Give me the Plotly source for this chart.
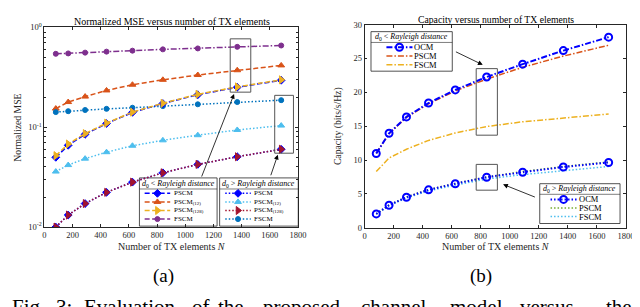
import plotly.graph_objects as go

# ---------------- data ----------------
N = [81, 169, 289, 441, 625, 841, 1089, 1369, 1681]

# (a) normalized MSE
mse_pscm_near = [0.050, 0.066, 0.085, 0.109, 0.141, 0.173, 0.212, 0.252, 0.296]
mse_pscm12_near = [0.154, 0.179, 0.203, 0.234, 0.267, 0.299, 0.334, 0.373, 0.417]
mse_pscm128_near = [0.052, 0.068, 0.0865, 0.110, 0.142, 0.174, 0.214, 0.254, 0.299]
mse_fscm_near = [0.545, 0.55, 0.56, 0.573, 0.586, 0.604, 0.617, 0.64, 0.66]
mse_pscm_far = [0.0100, 0.0132, 0.0172, 0.0223, 0.0282, 0.035, 0.0425, 0.0507, 0.0602]
mse_pscm12_far = [0.036, 0.0418, 0.0485, 0.0563, 0.0653, 0.074, 0.0833, 0.094, 0.104]
mse_pscm128_far = [0.0100, 0.0132, 0.0172, 0.0223, 0.0282, 0.035, 0.0425, 0.0507, 0.0602]
mse_fscm_far = [0.142, 0.145, 0.149, 0.153, 0.157, 0.163, 0.170, 0.179, 0.187]

# (b) capacity
cap_ocm_near = [10.96, 13.95, 16.37, 18.42, 20.36, 22.27, 24.16, 26.16, 28.15]
cap_pscm_near = [11.0, 13.9, 16.3, 18.3, 20.2, 21.95, 23.7, 25.35, 26.95]
cap_fscm_near = [8.3, 10.3, 11.6, 12.9, 14.0, 14.95, 15.65, 16.2, 16.8]
cap_ocm_far = [2.05, 3.33, 4.51, 5.6, 6.5, 7.46, 8.2, 8.97, 9.64]
cap_pscm_far = [2.05, 3.35, 4.55, 5.65, 6.55, 7.5, 8.3, 9.05, 9.72]
cap_fscm_far = [2.0, 3.25, 4.4, 5.45, 6.3, 7.2, 7.85, 8.45, 9.05]

x_ticks = [0, 200, 400, 600, 800, 1000, 1200, 1400, 1600, 1800]
mse_ticks = [0.01, 0.1, 1]
mse_ticktext = ["10<sup>-2</sup>", "10<sup>-1</sup>", "10<sup>0</sup>"]
cap_ticks = [0, 5, 10, 15, 20, 25, 30]

# zoom boxes (data coords)
box_a1 = dict(x0=1319, x1=1465, y0=0.225, y1=0.77)
box_a2 = dict(x0=1635, x1=1768, y0=0.055, y1=0.209)
box_b1 = dict(x0=769, x1=915, y0=13.67, y1=23.5)
box_b2 = dict(x0=769, x1=915, y0=5.55, y1=9.36)

# ---------------- styles ----------------
W, H = 640, 307
FONT = "Liberation Serif"
TXT = "#262626"
BLUE = "#0000FF"
C1 = "#0072BD"
ORANGE = "#D95319"
YELLOW = "#EDB120"
PURPLE = "#7E2F8E"
GREEN = "#77AC30"
LBLUE = "#4DBEEE"
DRED = "#A2142F"
DASH = "5px,2.5px"
DOT = "1.5px,2px"
DASHDOT = "6px,2px,1.5px,2px"

fig = go.Figure()


def add(x, y, color, dash, symbol=None, xa="x", ya="y", size=5, open_=False, lw=1.5):
    mode = "lines+markers" if symbol else "lines"
    marker = None
    if symbol:
        if open_:
            marker = dict(symbol=symbol + "-open", size=size, color=color, line=dict(width=2, color=color))
        else:
            marker = dict(symbol=symbol, size=size, color=color, line=dict(width=1, color=color))
    fig.add_trace(go.Scatter(x=x, y=y, mode=mode, xaxis=xa, yaxis=ya, showlegend=False,
                             line=dict(color=color, dash=dash, width=lw), marker=marker,
                             hoverinfo="skip"))


# (a)
add(N, mse_fscm_near, PURPLE, DASHDOT, "circle")
add(N, mse_pscm12_near, ORANGE, DASH, "triangle-up", size=6)
add(N, mse_fscm_far, C1, DOT, "circle")
add(N, mse_pscm_near, BLUE, DASH, "diamond", size=6)
add(N, mse_pscm128_near, YELLOW, DASH, "triangle-right", size=7)
add(N, mse_pscm12_far, LBLUE, DOT, "triangle-up", size=6)
add(N, mse_pscm_far, BLUE, DOT, "diamond", size=6)
add(N, mse_pscm128_far, DRED, DOT, "triangle-right", size=7)

# (b)
add(N, cap_fscm_near, YELLOW, DASHDOT, None, "x2", "y2")
add(N, cap_pscm_near, ORANGE, DASHDOT, None, "x2", "y2")
add(N, cap_ocm_near, BLUE, DASHDOT, "circle", "x2", "y2", size=7, open_=True, lw=2)
add(N, cap_fscm_far, LBLUE, DOT, None, "x2", "y2")
add(N, cap_pscm_far, GREEN, DOT, None, "x2", "y2")
add(N, cap_ocm_far, BLUE, DOT, "circle", "x2", "y2", size=7, open_=True, lw=2)


def P(x, y):
    return x / W, 1 - y / H


shapes = []
annots = []

# zoom rectangles
for b, xr, yr in [(box_a1, "x", "y"), (box_a2, "x", "y"), (box_b1, "x2", "y2"), (box_b2, "x2", "y2")]:
    shapes.append(dict(type="rect", xref=xr, yref=yr, x0=b["x0"], x1=b["x1"], y0=b["y0"], y1=b["y1"],
                       line=dict(color="#555555", width=1), layer="above"))

# arrows (pixel space -> paper)
def arrow(x0, y0, x1, y1):
    hx, hy = P(x1, y1)
    annots.append(dict(x=hx, y=hy, xref="paper", yref="paper", ax=x0 - x1, ay=y0 - y1,
                       axref="pixel", ayref="pixel", showarrow=True, arrowhead=2, arrowsize=1.2,
                       arrowwidth=0.8, arrowcolor="black", text=""))

arrow(195, 167, 228, 83)
arrow(265, 168, 272.5, 146)
arrow(452.7, 39, 481, 52.7)
arrow(535, 190, 501.7, 176.7)

# legends drawn manually
legends = [
    dict(box=(131.7, 170, 210.7, 220), title_y=176, sep=181.5, ys=[186, 194.9, 203.8, 212.7],
         line=(137, 163), text_x=165.5, fs=7,
         items=[("PSCM", BLUE, DASH, "diamond", 6, False),
                ("PSCM<sub>(12)</sub>", ORANGE, DASH, "triangle-up", 6, False),
                ("PSCM<sub>(128)</sub>", YELLOW, DASH, "triangle-right", 7, False),
                ("FSCM", PURPLE, DASH, "circle", 5, False)],
         title="<i>d</i><sub>0</sub> &lt; <i>Rayleigh distance</i>"),
    dict(box=(213.3, 170, 293.3, 220), title_y=176, sep=181.5, ys=[186, 194.9, 203.8, 212.7],
         line=(219, 245), text_x=247.5, fs=7,
         items=[("PSCM", BLUE, DOT, "diamond", 6, False),
                ("PSCM<sub>(12)</sub>", LBLUE, DOT, "triangle-up", 6, False),
                ("PSCM<sub>(128)</sub>", DRED, DOT, "triangle-right", 7, False),
                ("FSCM", C1, DOT, "circle", 5, False)],
         title="<i>d</i><sub>0</sub> &gt; <i>Rayleigh distance</i>"),
    dict(box=(367.3, 18.3, 450, 59.3), title_y=24, sep=29.5, ys=[34.5, 43.6, 52.7],
         line=(383, 409.5), text_x=410.5, fs=8.5,
         items=[("OCM", BLUE, DASHDOT, "circle", 7, True),
                ("PSCM", ORANGE, DASHDOT, None, 0, False),
                ("FSCM", YELLOW, DASHDOT, None, 0, False)],
         title="<i>d</i><sub>0</sub> &lt; <i>Rayleigh distance</i>"),
    dict(box=(539, 176, 620.7, 217.3), title_y=182, sep=187, ys=[192.3, 201.2, 210.1],
         line=(550, 576.5), text_x=578, fs=8.5,
         items=[("OCM", BLUE, DOT, "circle", 7, True),
                ("PSCM", GREEN, DOT, None, 0, False),
                ("FSCM", LBLUE, DOT, None, 0, False)],
         title="<i>d</i><sub>0</sub> &gt; <i>Rayleigh distance</i>"),
]

for lg in legends:
    x0, y0, x1, y1 = lg["box"]
    a, b = P(x0, y0)
    c, d = P(x1, y1)
    shapes.append(dict(type="rect", xref="paper", yref="paper", x0=a, x1=c, y0=d, y1=b,
                       fillcolor="white", line=dict(color="#262626", width=0.8), layer="below"))
    s1, sy = P(x0, lg["sep"])
    s2, _ = P(x1, lg["sep"])
    shapes.append(dict(type="line", xref="paper", yref="paper", x0=s1, x1=s2, y0=sy, y1=sy,
                       line=dict(color="#262626", width=0.6), layer="above"))
    tx, ty = P((x0 + x1) / 2, lg["title_y"])
    annots.append(dict(x=tx, y=ty, xref="paper", yref="paper", text=lg["title"], showarrow=False,
                       font=dict(family=FONT, size=8, color="black"), xanchor="center", yanchor="middle"))
    lx0, lx1 = lg["line"]
    for (lab, col, dash, sym, sz, op), yy in zip(lg["items"], lg["ys"]):
        is_ocm = sym == "circle" and op
        add([lx0, lx1], [yy, yy], col, dash, None, "x3", "y3", lw=2 if is_ocm else 1.5)
        if sym:
            add([(lx0 + lx1) / 2], [yy], col, dash, sym, "x3", "y3", size=sz, open_=op)
        px_, py_ = P(lg["text_x"], yy)
        annots.append(dict(x=px_, y=py_, xref="paper", yref="paper", text=lab, showarrow=False,
                           font=dict(family=FONT, size=lg["fs"], color="black"), xanchor="left",
                           yanchor="middle", borderpad=0))

# titles and axis labels
def text(x, y, s, size=9, angle=0, anchor="center", yanchor="middle", color="black"):
    px_, py_ = P(x, y)
    annots.append(dict(x=px_, y=py_, xref="paper", yref="paper", text=s, showarrow=False, textangle=angle,
                       font=dict(family=FONT, size=size, color=color), xanchor=anchor, yanchor=yanchor))

text(165, 8, "Normalized MSE versus number of TX elements", 10)
text(494, 5.5, "Capacity versus number of TX elements", 9.7)
text(165, 241, "Number of TX elements <i>N</i>", 10, color=TXT)
text(494, 241, "Number of TX elements <i>N</i>", 10, color=TXT)
text(8, 118, "Normalized MSE", 9.7, angle=-90, color=TXT)
text(334, 116, "Capacity (bits/s/Hz)", 9.7, angle=-90, color=TXT)
text(156, 272, "(a)", 19)
text(479, 272, "(b)", 19)
for w, x in [("Fig.", 0), ("3:", 45), ("Evaluation", 73), ("of", 183), ("the", 210), ("proposed", 255),
             ("channel", 355), ("model", 446), ("versus", 517), ("the", 604)]:
    text(x, 289, w, 21, anchor="left", yanchor="top")

axis_common = dict(showgrid=False, zeroline=False, showline=True, mirror="ticks", linecolor="#262626",
                   linewidth=0.8, ticks="inside", ticklen=3, tickcolor="#262626",
                   ticklabeloverflow="allow",
                   tickfont=dict(family=FONT, size=8.5, color=TXT))

minor_vals = [k * 0.01 for k in range(2, 10)] + [k * 0.1 for k in range(2, 10)]

fig.update_layout(
    width=W, height=H, margin=dict(l=0, r=0, t=0, b=0),
    paper_bgcolor="white", plot_bgcolor="rgba(0,0,0,0)",
    xaxis=dict(domain=[35 / W, 293 / W], range=[0, 1800], tickvals=x_ticks, anchor="y", **axis_common),
    yaxis=dict(domain=[1 - 221 / H, 1 - 14 / H], type="log", range=[-2, 0], tickvals=mse_ticks,
               ticktext=mse_ticktext, anchor="x",
               minor=dict(ticks="inside", ticklen=2, tickcolor="#262626", tickvals=minor_vals), **axis_common),
    xaxis2=dict(domain=[360.7 / W, 626.7 / W], range=[0, 1800], tickvals=x_ticks, anchor="y2", **axis_common),
    yaxis2=dict(domain=[1 - 221.7 / H, 1 - 11 / H], range=[0, 30], tickvals=cap_ticks, anchor="x2", **axis_common),
    xaxis3=dict(domain=[0, 1], range=[0, W], visible=False, anchor="y3"),
    yaxis3=dict(domain=[0, 1], range=[H, 0], visible=False, anchor="x3"),
    shapes=shapes, annotations=annots,
)

fig.write_html("out.html")
